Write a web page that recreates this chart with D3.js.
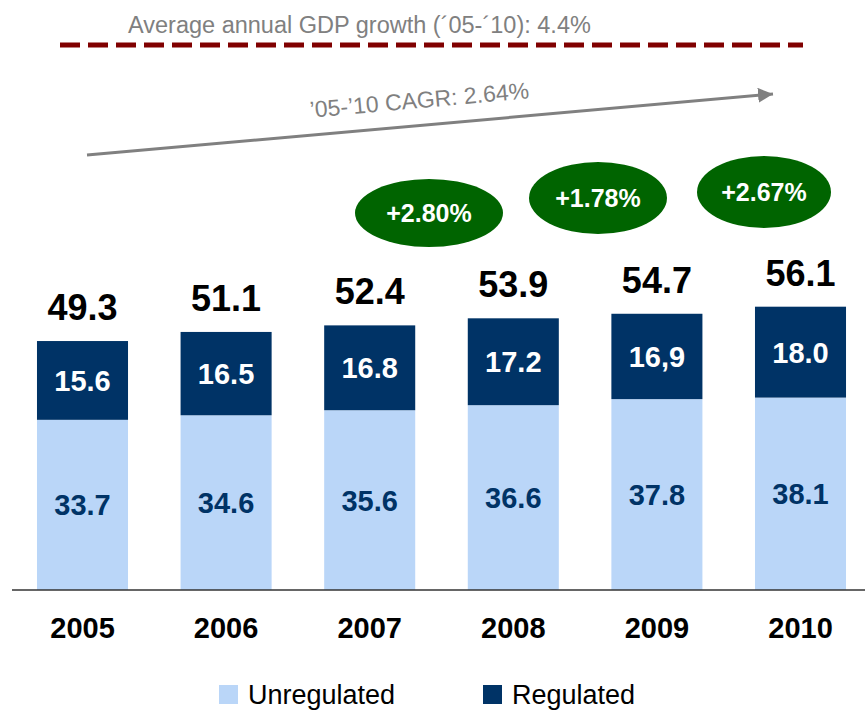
<!DOCTYPE html>
<html>
<head>
<meta charset="utf-8">
<script src="https://cdn.jsdelivr.net/npm/d3@7"></script>
<style>
  body { margin: 0; background: #fff; }
  text { font-family: "Liberation Sans", Arial, sans-serif; }
</style>
</head>
<body>
<svg id="chart" width="865" height="710"></svg>
<script>
// data
var years = ["2005", "2006", "2007", "2008", "2009", "2010"];
var unregulated = [33.7, 34.6, 35.6, 36.6, 37.8, 38.1];
var regulated = [15.6, 16.5, 16.8, 17.2, 16.9, 18.0];
var regulatedLabels = ["15.6", "16.5", "16.8", "17.2", "16,9", "18.0"];
var totalLabels = ["49.3", "51.1", "52.4", "53.9", "54.7", "56.1"];
var growthLabels = ["+2.80%", "+1.78%", "+2.67%"];
var gdpNote = "Average annual GDP growth (\u00b405-\u00b410): 4.4%";
var cagrNote = "\u201905-\u201910 CAGR: 2.64%";
var seriesNames = ["Unregulated", "Regulated"];

// colours
var lightBlue = "#bad6f8";
var darkBlue = "#003366";
var green = "#006400";
var grey = "#808080";

// layout (ellipse bubbles: centre x, centre y, rx, ry)
var bubbles = [[429, 213, 74, 34], [598, 198, 69, 36], [764, 192, 67, 36]];

var svg = d3.select("#chart");
var baseY = 590;

var x = d3.scaleBand()
    .domain(years)
    .range([10.7, 872.3])
    .paddingInner(0.366)
    .paddingOuter(0.183);

var y = d3.scaleLinear()
    .domain([0, 60])
    .range([baseY, baseY - 60 * 5.05]);

var rows = years.map(function(yr, i) {
  return {year: yr, u: unregulated[i], r: regulated[i], rl: regulatedLabels[i], tl: totalLabels[i]};
});

// unregulated segments
svg.append("g").selectAll("rect")
  .data(rows)
  .enter().append("rect")
    .attr("x", function(d) { return x(d.year); })
    .attr("width", x.bandwidth())
    .attr("y", function(d) { return y(d.u); })
    .attr("height", function(d) { return y(0) - y(d.u); })
    .attr("fill", lightBlue);

// regulated segments
svg.append("g").selectAll("rect")
  .data(rows)
  .enter().append("rect")
    .attr("x", function(d) { return x(d.year); })
    .attr("width", x.bandwidth())
    .attr("y", function(d) { return y(d.u + d.r); })
    .attr("height", function(d) { return y(d.u) - y(d.u + d.r); })
    .attr("fill", darkBlue);

// segment labels
svg.append("g").selectAll("text")
  .data(rows)
  .enter().append("text")
    .attr("x", function(d) { return x(d.year) + x.bandwidth() / 2; })
    .attr("y", function(d) { return (y(0) + y(d.u)) / 2; })
    .attr("dy", "0.36em")
    .attr("text-anchor", "middle")
    .attr("font-size", 29)
    .attr("font-weight", "bold")
    .attr("fill", darkBlue)
    .text(function(d) { return d.u.toFixed(1); });

svg.append("g").selectAll("text")
  .data(rows)
  .enter().append("text")
    .attr("x", function(d) { return x(d.year) + x.bandwidth() / 2; })
    .attr("y", function(d) { return (y(d.u) + y(d.u + d.r)) / 2; })
    .attr("dy", "0.36em")
    .attr("text-anchor", "middle")
    .attr("font-size", 29)
    .attr("font-weight", "bold")
    .attr("fill", "#fff")
    .text(function(d) { return d.rl; });

// totals
svg.append("g").selectAll("text")
  .data(rows)
  .enter().append("text")
    .attr("x", function(d) { return x(d.year) + x.bandwidth() / 2; })
    .attr("y", function(d) { return y(d.u + d.r) - 21; })
    .attr("text-anchor", "middle")
    .attr("font-size", 36)
    .attr("font-weight", "bold")
    .attr("fill", "#000")
    .text(function(d) { return d.tl; });

// baseline
svg.append("line")
    .attr("x1", 12).attr("x2", 865)
    .attr("y1", baseY).attr("y2", baseY)
    .attr("stroke", "#333")
    .attr("stroke-width", 1.5);

// year labels
var xAxis = svg.append("g")
    .attr("transform", "translate(0," + baseY + ")")
    .call(d3.axisBottom(x).tickSize(0).tickPadding(0));
xAxis.select(".domain").remove();
xAxis.selectAll("text")
    .attr("y", 48)
    .attr("dy", 0)
    .attr("font-size", 29)
    .attr("font-weight", "bold")
    .attr("fill", "#000")
    .style("font-family", "'Liberation Sans', Arial, sans-serif");

// growth bubbles
var bub = svg.append("g").selectAll("g")
  .data(growthLabels)
  .enter().append("g");
bub.append("ellipse")
    .attr("cx", function(d, i) { return bubbles[i][0]; })
    .attr("cy", function(d, i) { return bubbles[i][1]; })
    .attr("rx", function(d, i) { return bubbles[i][2]; })
    .attr("ry", function(d, i) { return bubbles[i][3]; })
    .attr("fill", green);
bub.append("text")
    .attr("x", function(d, i) { return bubbles[i][0]; })
    .attr("y", function(d, i) { return bubbles[i][1]; })
    .attr("dy", "0.36em")
    .attr("text-anchor", "middle")
    .attr("font-size", 25)
    .attr("font-weight", "bold")
    .attr("fill", "#fff")
    .text(function(d) { return d; });

// GDP line and note
svg.append("line")
    .attr("x1", 60).attr("x2", 803)
    .attr("y1", 45).attr("y2", 45)
    .attr("stroke", "#800000")
    .attr("stroke-width", 5)
    .attr("stroke-dasharray", "20,8");
svg.append("text")
    .attr("x", 128).attr("y", 33)
    .attr("font-size", 23.5)
    .attr("fill", grey)
    .text(gdpNote);

// CAGR arrow
svg.append("defs").append("marker")
    .attr("id", "arrow")
    .attr("viewBox", "0 0 10 10")
    .attr("refX", 10).attr("refY", 5)
    .attr("markerWidth", 5).attr("markerHeight", 5)
    .attr("markerUnits", "strokeWidth")
    .attr("orient", "auto")
  .append("path")
    .attr("d", "M0,0L10,5L0,10Z")
    .attr("fill", grey);
svg.append("line")
    .attr("x1", 87).attr("y1", 155)
    .attr("x2", 773).attr("y2", 94)
    .attr("stroke", grey)
    .attr("stroke-width", 3)
    .attr("marker-end", "url(#arrow)");
var ang = Math.atan2(94 - 155, 773 - 87) * 180 / Math.PI;
svg.append("text")
    .attr("transform", "translate(420,108) rotate(" + ang + ")")
    .attr("text-anchor", "middle")
    .attr("font-size", 23)
    .attr("fill", grey)
    .text(cagrNote);

// legend
var legendX = [219, 483];
var leg = svg.append("g").selectAll("g")
  .data(seriesNames)
  .enter().append("g")
    .attr("transform", function(d, i) { return "translate(" + legendX[i] + ",685)"; });
leg.append("rect")
    .attr("width", 19).attr("height", 19)
    .attr("fill", function(d, i) { return i === 0 ? lightBlue : darkBlue; });
leg.append("text")
    .attr("x", 29).attr("y", 19)
    .attr("font-size", 27)
    .attr("fill", "#000")
    .text(function(d) { return d; });
</script>
</body>
</html>
